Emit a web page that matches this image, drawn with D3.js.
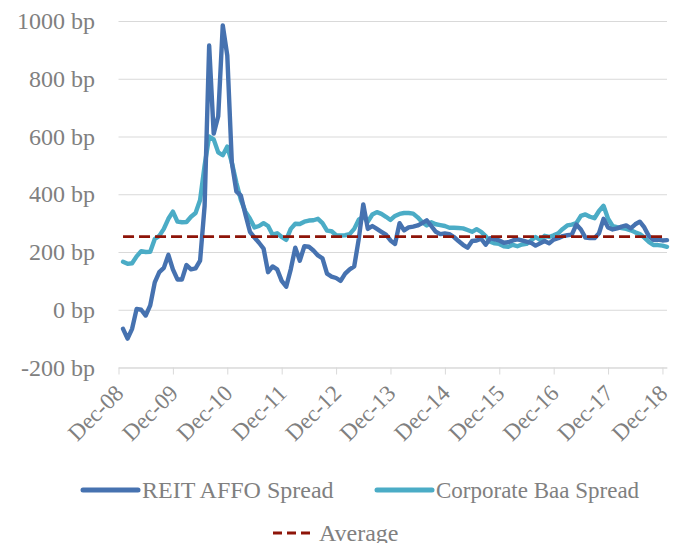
<!DOCTYPE html>
<html><head><meta charset="utf-8">
<script src="https://cdn.jsdelivr.net/npm/d3@7"></script>
<style>
body{margin:0;background:#fff}
svg{display:block}
text{font-family:"Liberation Serif","Times New Roman",serif}
</style>
</head><body>
<svg id="c" width="680" height="543"></svg>
<script>
// Tick labels (every 12 months, month index 0 = Dec-08)
const tickLabels = ["Dec-08","Dec-09","Dec-10","Dec-11","Dec-12","Dec-13","Dec-14","Dec-15","Dec-16","Dec-17","Dec-18"];
const yTicks = [-200, 0, 200, 400, 600, 800, 1000];
const seriesNames = ["REIT AFFO Spread", "Corporate Baa Spread", "Average"];

// Monthly values, Jan-09 .. Jan-19 (bp)
const reitSpread = [
  -66,-100,-66,3,0,-20,15,95,130,145,190,140,
  105,105,155,140,143,170,360,915,610,670,985,880,
  510,410,395,330,270,250,232,212,130,150,140,100,
  80,140,215,170,220,218,205,188,178,125,115,110,
  100,125,140,150,245,365,280,290,280,270,260,240,
  228,300,275,285,288,292,300,310,290,270,262,264,
  262,252,238,225,215,238,240,246,225,248,244,240,
  232,234,240,244,240,236,232,222,230,238,230,243,
  248,255,258,260,295,278,250,248,248,265,315,285,
  278,282,288,292,282,296,305,285,255,242,243,240,
  241
];
const baaSpread = [
  166,159,161,185,203,200,201,245,256,280,315,340,
  305,303,304,322,335,380,500,600,590,545,535,565,
  510,440,380,340,315,285,290,300,290,260,265,252,
  242,280,298,297,305,309,310,315,300,274,272,258,
  257,258,262,280,312,322,305,330,338,332,322,311,
  325,332,335,335,333,320,303,292,303,296,293,290,
  284,284,283,282,276,270,279,270,255,236,230,228,
  220,218,225,220,226,228,240,252,242,256,252,258,
  265,280,292,295,300,325,330,322,317,342,360,315,
  290,286,283,280,275,268,262,250,235,224,224,222,
  218
];
const averageSpread = 253;

const colors = { reit: "#4672B0", baa: "#4BACC6", avg: "#8E1408", text: "#808080", grid: "#D9D9D9" };

const svg = d3.select("#c");
const plotLeft = 118.5, plotRight = 667, plotTop = 21, plotBottom = 367.5;

const x = d3.scaleLinear().domain([0, 121]).range([plotLeft, plotRight]);
const y = d3.scaleLinear().domain([-200, 1000]).range([plotBottom, plotTop]);

// Y axis with gridlines
const yAxis = d3.axisLeft(y).tickValues(yTicks).tickSize(-(plotRight - plotLeft)).tickPadding(23.5)
  .tickFormat(d => `${d} bp`);
const gy = svg.append("g").attr("transform", `translate(${plotLeft},0)`).call(yAxis);
gy.select(".domain").remove();
gy.selectAll(".tick line").attr("stroke", colors.grid).attr("stroke-width", 1);
gy.selectAll(".tick text").attr("fill", colors.text).style("font-size", "24px")
  .attr("dy", "0.32em");

// X axis
const xAxis = d3.axisBottom(x).tickValues(d3.range(0, 121, 12)).tickSize(7).tickSizeOuter(0)
  .tickFormat((d, i) => tickLabels[i]);
const gx = svg.append("g").attr("transform", `translate(0,${plotBottom})`).call(xAxis);
gx.select(".domain").attr("stroke", colors.grid).attr("stroke-width", 1);
gx.selectAll(".tick line").attr("stroke", colors.grid).attr("stroke-width", 1);
gx.selectAll(".tick text").attr("fill", colors.text).style("font-size", "23px")
  .attr("text-anchor", "end").attr("x", 0).attr("y", 0).attr("dy", 0)
  .attr("transform", "translate(6,27) rotate(-45)");

// Lines
const line = d3.line().x((d, i) => x(i + 1)).y(d => y(d));
svg.append("path").datum(baaSpread).attr("d", line)
  .attr("fill", "none").attr("stroke", colors.baa).attr("stroke-width", 4.4)
  .attr("stroke-linejoin", "round").attr("stroke-linecap", "round");
svg.append("path").datum(reitSpread).attr("d", line)
  .attr("fill", "none").attr("stroke", colors.reit).attr("stroke-width", 4.4)
  .attr("stroke-linejoin", "round").attr("stroke-linecap", "round");
const avgData = reitSpread.map(() => averageSpread);
svg.append("path").datum(avgData).attr("d", line)
  .attr("fill", "none").attr("stroke", colors.avg).attr("stroke-width", 2.7)
  .attr("stroke-dasharray", "11,5");

// Legend
const legend = svg.append("g");
const legItems = [
  { name: seriesNames[0], color: colors.reit, x1: 83, x2: 138, y: 490, dash: null, w: 5, fs: 24 },
  { name: seriesNames[1], color: colors.baa, x1: 377, x2: 432, y: 490, dash: null, w: 5, fs: 23 },
  { name: seriesNames[2], color: colors.avg, x1: 273, x2: 315, y: 533, dash: "9,5", w: 3, fs: 24 }
];
legItems.forEach(it => {
  legend.append("line").attr("x1", it.x1).attr("x2", it.x2).attr("y1", it.y).attr("y2", it.y)
    .attr("stroke", it.color).attr("stroke-width", it.w)
    .attr("stroke-linecap", it.dash ? "butt" : "round")
    .attr("stroke-dasharray", it.dash);
  legend.append("text").attr("x", it.x2 + 4).attr("y", it.y + 8)
    .attr("fill", colors.text).style("font-size", it.fs + "px").text(it.name);
});
</script>
</body></html>
